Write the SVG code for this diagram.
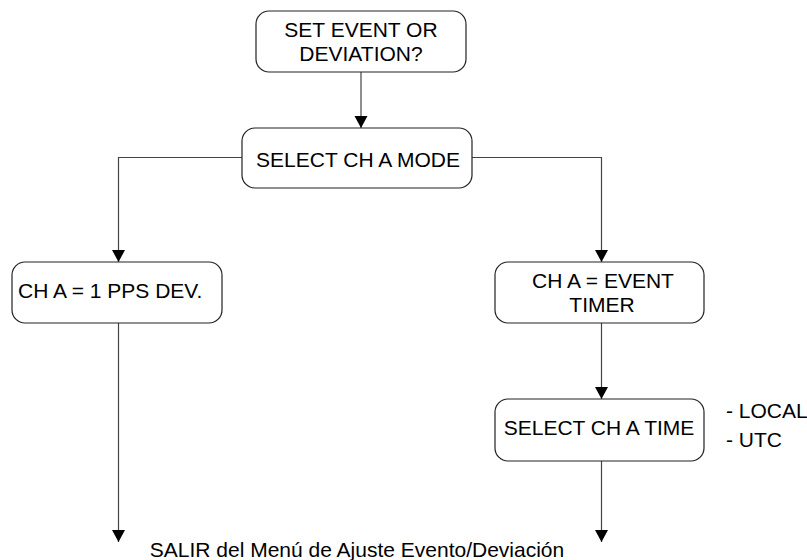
<svg xmlns="http://www.w3.org/2000/svg" width="807" height="560" viewBox="0 0 807 560">
<defs>
<marker id="arr" markerUnits="userSpaceOnUse" markerWidth="14" markerHeight="14" refX="12" refY="6.5" orient="auto">
<path d="M0,0 L12,6.5 L0,13 Z" fill="#000"/>
</marker>
<style>
.box{fill:#fff;stroke:#222;stroke-width:1.2}
.t{font-family:"Liberation Sans",Arial,sans-serif;font-size:21px;fill:#000}
.c{text-anchor:middle}
.ln{fill:none;stroke:#444;stroke-width:1.2;marker-end:url(#arr)}
</style>
</defs>
<rect width="807" height="560" fill="#fff"/>
<g id="connectors">
<path class="ln" d="M361,72 V128"/>
<path class="ln" d="M242,157.5 H118.5 V262"/>
<path class="ln" d="M472,157.5 H601.5 V262"/>
<path class="ln" d="M601.5,323 V399"/>
<path class="ln" d="M118.5,323 V542"/>
<path class="ln" d="M601.5,461 V542"/>
</g>
<g id="n1">
<rect class="box" x="256" y="11" width="210" height="61" rx="13"/>
<text class="t c" x="361" y="37">SET EVENT OR</text>
<text class="t c" x="361" y="61">DEVIATION?</text>
</g>
<g id="n2">
<rect class="box" x="242" y="128" width="230" height="60" rx="13"/>
<text class="t c" x="358" y="167">SELECT CH A MODE</text>
</g>
<g id="n3">
<rect class="box" x="12" y="262" width="210" height="61" rx="13"/>
<text class="t" x="18" y="298">CH A = 1 PPS DEV.</text>
</g>
<g id="n4">
<rect class="box" x="495" y="262" width="209" height="61" rx="13"/>
<text class="t c" x="603" y="288">CH A = EVENT</text>
<text class="t c" x="602" y="312">TIMER</text>
</g>
<g id="n5">
<rect class="box" x="495" y="399" width="209" height="62" rx="13"/>
<text class="t c" x="599" y="435">SELECT CH A TIME</text>
</g>
<g id="opts">
<text class="t" x="726" y="418">- LOCAL</text>
<text class="t" x="726" y="447">- UTC</text>
</g>
<g id="exit">
<text class="t c" x="357" y="557">SALIR del Menú de Ajuste Evento/Deviación</text>
</g>
</svg>
